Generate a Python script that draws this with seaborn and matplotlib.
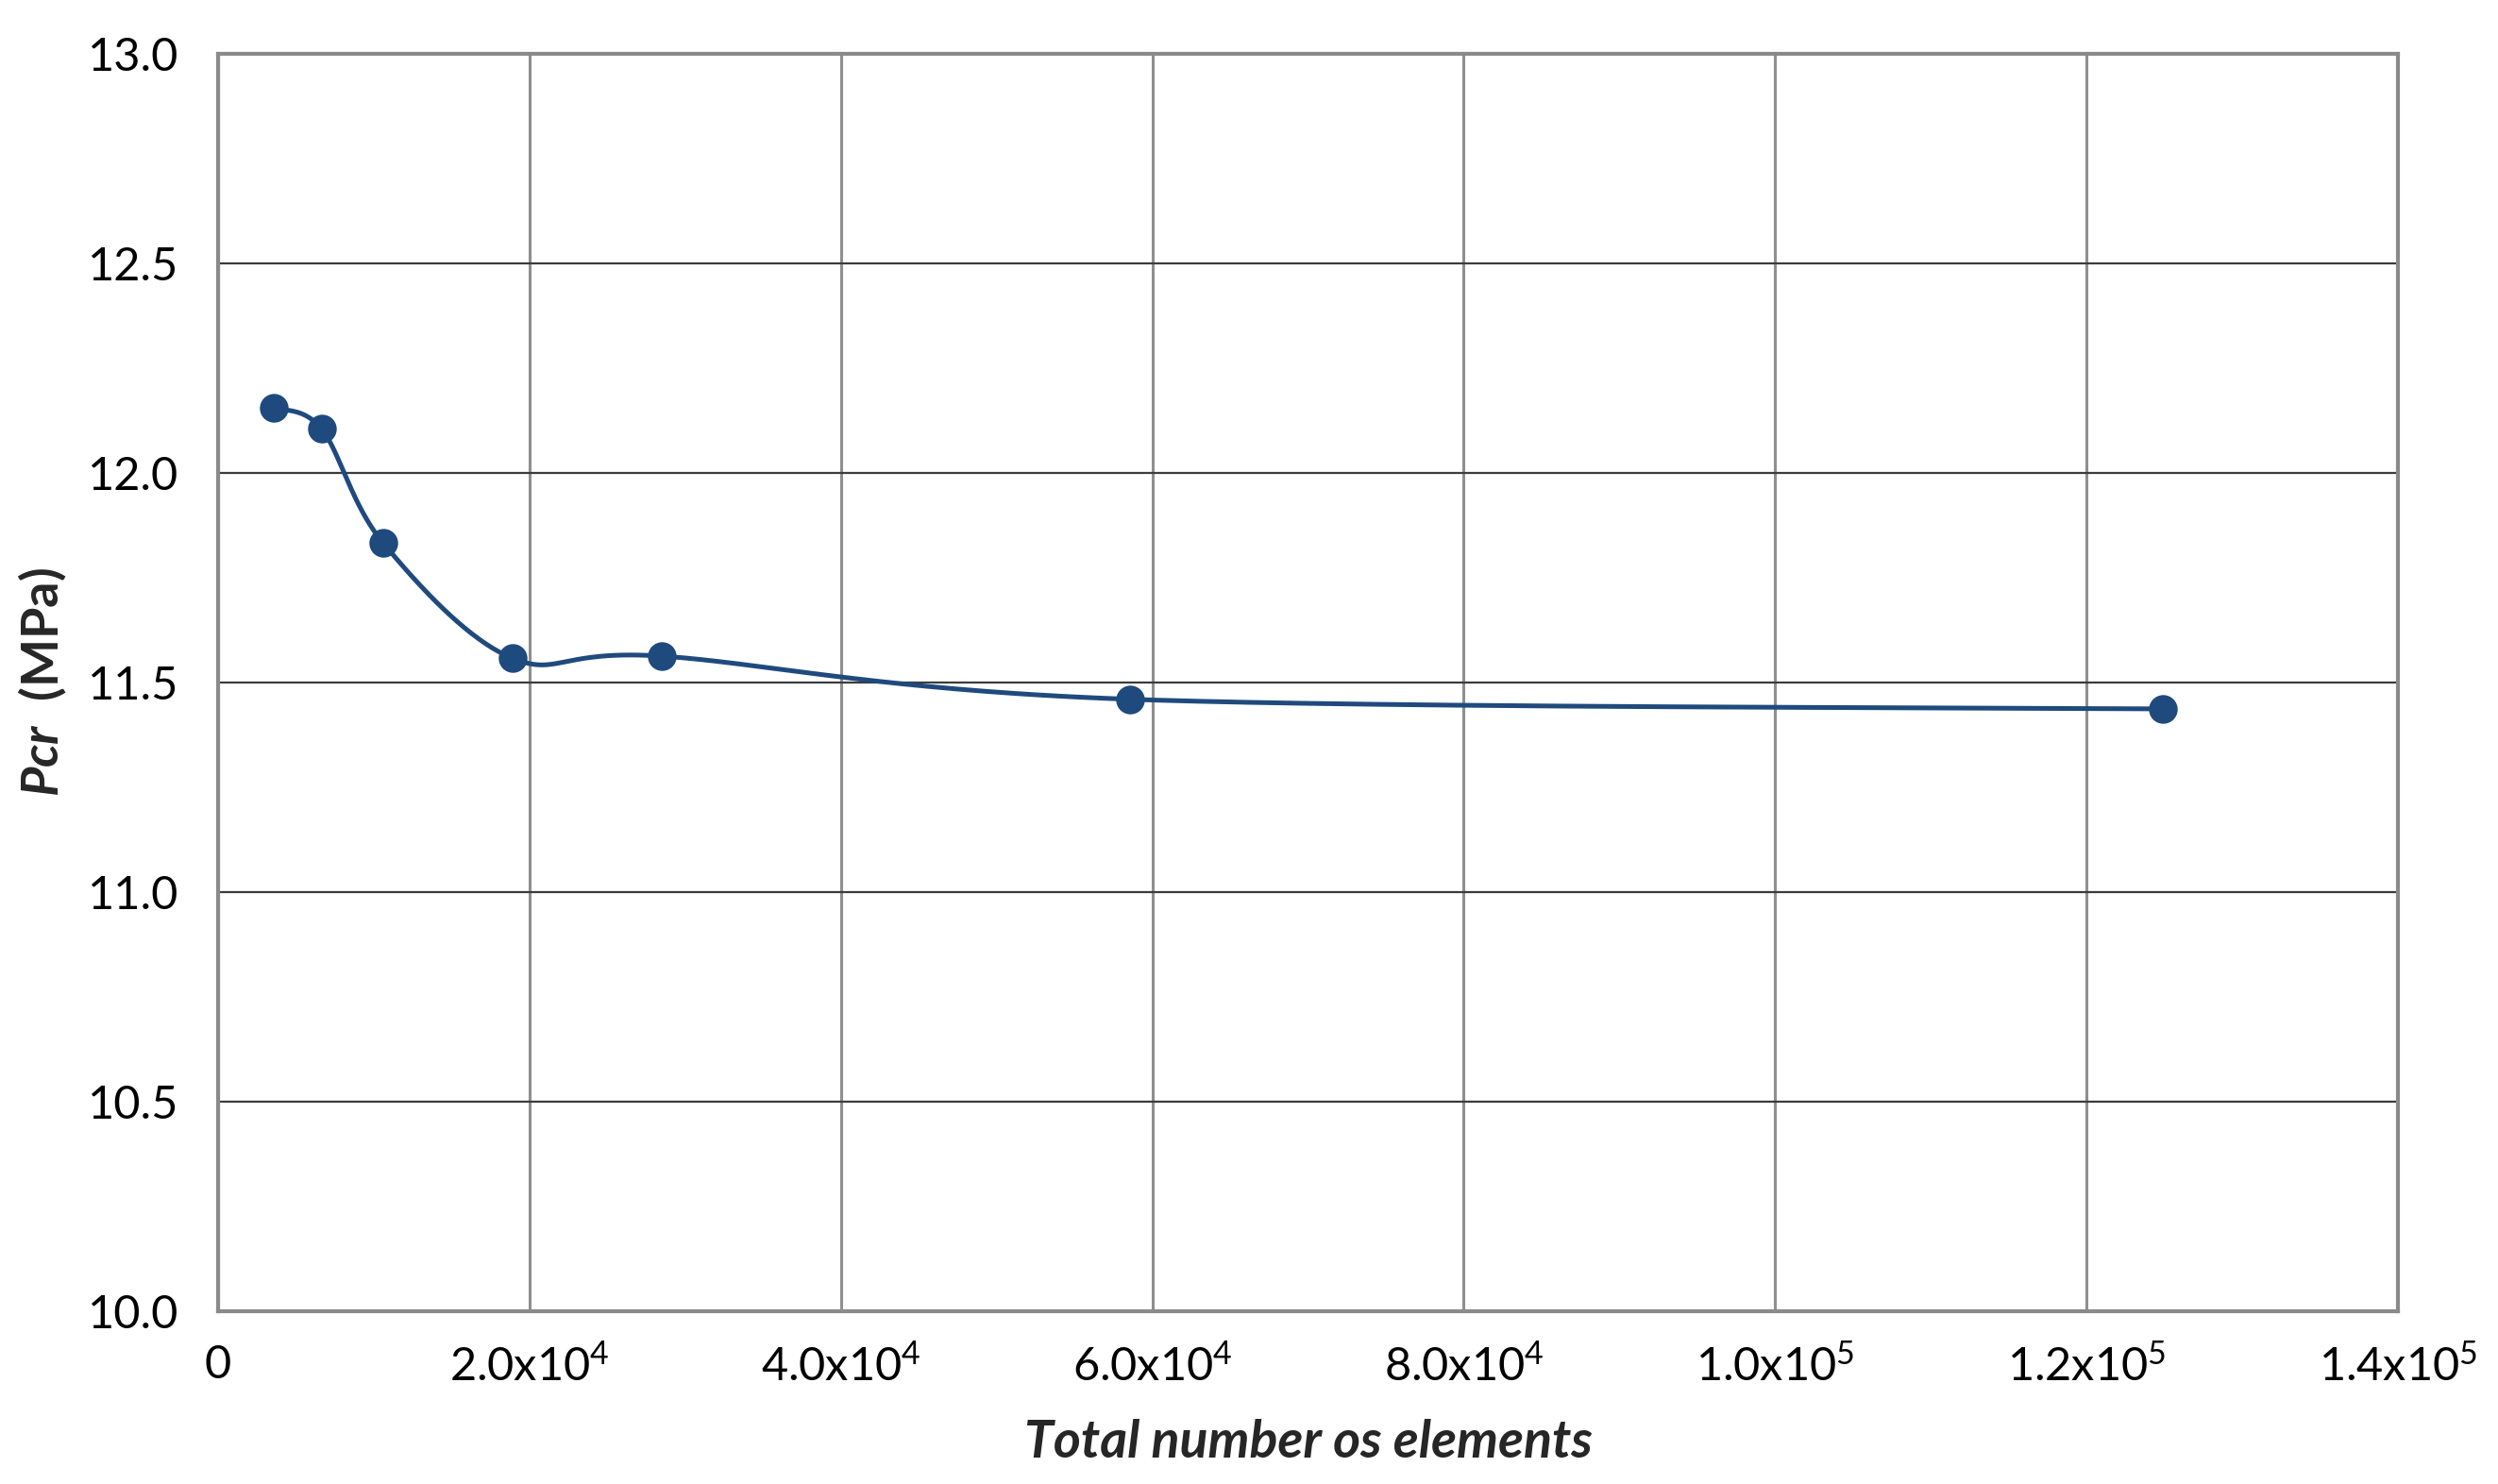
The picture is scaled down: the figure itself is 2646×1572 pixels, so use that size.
import numpy as np
import pandas as pd
import matplotlib
matplotlib.use("Agg")
import matplotlib.pyplot as plt
import seaborn as sns

# Data
elements = [3600, 6650, 10600, 18900, 28500, 58600, 124900]
pcr = [12.155, 12.105, 11.833, 11.558, 11.563, 11.460, 11.437]

x_ticks = [0, 20000, 40000, 60000, 80000, 100000, 120000, 140000]
x_tick_labels = ["0", "2.0x10$^{4}$", "4.0x10$^{4}$", "6.0x10$^{4}$", "8.0x10$^{4}$",
                 "1.0x10$^{5}$", "1.2x10$^{5}$", "1.4x10$^{5}$"]
y_ticks = [10.0, 10.5, 11.0, 11.5, 12.0, 12.5, 13.0]
y_tick_labels = ["10.0", "10.5", "11.0", "11.5", "12.0", "12.5", "13.0"]

sns.set_theme(style="white")
plt.rcParams['font.family'] = ['Lato', 'DejaVu Sans']
plt.rcParams['mathtext.fontset'] = 'custom'
plt.rcParams['mathtext.rm'] = 'Lato'
plt.rcParams['mathtext.it'] = 'Lato:italic:bold'
plt.rcParams['mathtext.bf'] = 'Lato:bold'
plt.rcParams['mathtext.default'] = 'regular'

W, H = 2646, 1572
fig = plt.figure(figsize=(W / 100, H / 100), dpi=100)
ax = fig.add_axes([231 / W, 1 - 1389 / H, (2540 - 231) / W, (1389 - 57) / H])

xmin, xmax, ymin, ymax = 0, 140000, 10.0, 13.0
ax.set_xlim(xmin, xmax)
ax.set_ylim(ymin, ymax)

# Smooth curve (Catmull-Rom in normalized display space, like Excel's smoothed line)
bbox = ax.get_position()
sx = bbox.width * W
sy = bbox.height * H
px = (np.array(elements) - xmin) / (xmax - xmin) * sx
py = (np.array(pcr) - ymin) / (ymax - ymin) * sy
P = np.column_stack([px, py])
Pext = np.vstack([P[0], P, P[-1]])
curve = []
t = np.linspace(0, 1, 60)
for i in range(1, len(Pext) - 2):
    p0, p1, p2, p3 = Pext[i - 1], Pext[i], Pext[i + 1], Pext[i + 2]
    c1 = p1 + (p2 - p0) / 6.0
    c2 = p2 - (p3 - p1) / 6.0
    seg = ((1 - t)[:, None] ** 3 * p1 + 3 * ((1 - t) ** 2 * t)[:, None] * c1
           + 3 * ((1 - t) * t ** 2)[:, None] * c2 + (t ** 3)[:, None] * p2)
    curve.append(seg)
curve = np.vstack(curve)
cx = curve[:, 0] / sx * (xmax - xmin) + xmin
cy = curve[:, 1] / sy * (ymax - ymin) + ymin

color = "#1F4A7E"
smooth = pd.DataFrame({"x": cx, "y": cy})
sns.lineplot(data=smooth, x="x", y="y", ax=ax, color=color, linewidth=3.6, sort=False,
             estimator=None)
df = pd.DataFrame({"elements": elements, "pcr": pcr})
sns.scatterplot(data=df, x="elements", y="pcr", ax=ax, color=color, s=480,
                edgecolor=color, linewidth=0, zorder=5)

ax.set_xticks(x_ticks)
ax.set_xticklabels(x_tick_labels, fontsize=35)
ax.set_yticks(y_ticks)
ax.set_yticklabels(y_tick_labels, fontsize=35)
ax.tick_params(axis='x', length=0, pad=25)
ax.tick_params(axis='y', length=0, pad=30)
for lbl in ax.get_xticklabels() + ax.get_yticklabels():
    lbl.set_color("black")

ax.grid(False)
ax.yaxis.grid(True, color="#3C3C3C", linewidth=1.6)
ax.xaxis.grid(True, color="#8F8F8F", linewidth=2.2)
ax.set_axisbelow(True)
for s in ax.spines.values():
    s.set_color("#8A8A8A")
    s.set_linewidth(3.0)

ax.set_xlabel("")
ax.set_ylabel("")
fig.text(((231 + 2540) / 2) / W, 1 - 1528 / H, "Total number os elements", fontsize=40,
         fontweight="bold", style="italic", ha="center", va="center")
fig.text(45 / W, 1 - 722 / H, r"$\mathit{Pcr}$  (MPa)", rotation=90, fontsize=39,
         fontweight="bold", ha="center", va="center")

fig.savefig("out.png", dpi=100, facecolor="white")
